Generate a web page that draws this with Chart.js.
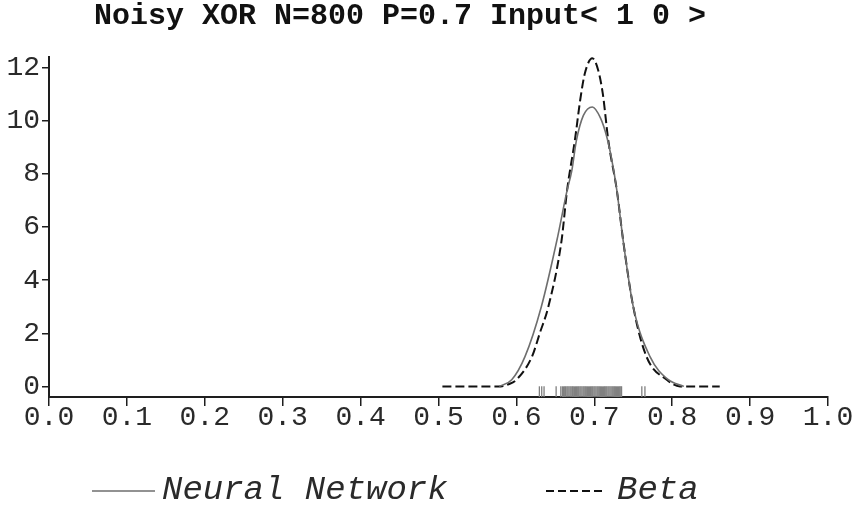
<!DOCTYPE html>
<html>
<head>
<meta charset="utf-8">
<script src="https://cdn.jsdelivr.net/npm/chart.js@4.4.1/dist/chart.umd.min.js"></script>
<style>
  html, body { margin: 0; padding: 0; background: #ffffff; }
  #wrap { width: 860px; height: 514px; }
</style>
</head>
<body>
<div id="wrap"><canvas id="c" width="860" height="514"></canvas></div>
<script>
// Density estimate from the trained network (solid curve)
const nnX = [0.578, 0.594, 0.611, 0.632, 0.652, 0.665, 0.671, 0.677, 0.686, 0.6975, 0.708, 0.716, 0.722, 0.729, 0.737, 0.75, 0.7715, 0.795, 0.815];
const nnY = [0, 0.25, 1.12, 3.0, 5.5, 7.37, 8.1, 9.25, 10.2, 10.52, 10.1, 9.4, 8.6, 7.37, 5.5, 3.0, 1.12, 0.25, 0];

// Beta density (dashed curve)
const betaX = [0.505, 0.58, 0.59, 0.60, 0.62, 0.63, 0.641, 0.658, 0.665, 0.675, 0.682, 0.688, 0.6975, 0.705, 0.711, 0.718, 0.729, 0.737, 0.75, 0.767, 0.793, 0.81, 0.861];
const betaY = [0, 0, 0.08, 0.25, 1.12, 2.0, 3.0, 5.5, 7.37, 9.25, 10.8, 11.8, 12.35, 11.9, 11.0, 9.25, 7.37, 5.5, 3.0, 1.12, 0.25, 0, 0];

// Observed outputs, shown as a rug under the curves
const rugX = [0.6295, 0.6325, 0.6355, 0.651, 0.657,
  0.659, 0.6605, 0.662, 0.6632, 0.6648, 0.6661, 0.6675, 0.669, 0.6703, 0.6718, 0.673, 0.6745,
  0.676, 0.6772, 0.6787, 0.68, 0.6815, 0.6828, 0.6842, 0.6857, 0.687, 0.6884, 0.6897, 0.6912,
  0.6925, 0.694, 0.6953, 0.6967, 0.698, 0.6995, 0.7008, 0.7022, 0.7037, 0.705, 0.7064, 0.7078,
  0.7091, 0.7105, 0.712, 0.7133, 0.7147, 0.716, 0.7175, 0.7188, 0.7202, 0.7216, 0.723, 0.7243,
  0.7257, 0.727, 0.7285, 0.7298, 0.7312, 0.7326, 0.734, 0.735,
  0.761, 0.765];
const rugLevel = -0.2;

const xTicks = [0, 0.1, 0.2, 0.3, 0.4, 0.5, 0.6, 0.7, 0.8, 0.9, 1.0];
const yTicks = [0, 2, 4, 6, 8, 10, 12];

const titleText = 'Noisy XOR N=800 P=0.7 Input< 1 0 >';

const pts = (xs, ys) => xs.map((x, i) => ({ x: x, y: ys[i] }));

const axisColor = '#1e1e1e';
const mono = '"Liberation Mono", "DejaVu Sans Mono", monospace';

// Title and legend drawn in monospace at fixed spots
const decorations = {
  id: 'decorations',
  afterDraw(chart) {
    const ctx = chart.ctx;
    ctx.save();
    ctx.fillStyle = '#111';
    ctx.font = 'bold 30px ' + mono;
    ctx.textAlign = 'center';
    ctx.textBaseline = 'alphabetic';
    ctx.fillText(titleText, 400, 24);

    const ds = chart.data.datasets;
    ctx.font = 'italic 34px ' + mono;
    ctx.textAlign = 'left';
    ctx.fillStyle = '#2a2a2a';

    ctx.strokeStyle = ds[0].borderColor;
    ctx.lineWidth = 1.6;
    ctx.setLineDash([]);
    ctx.beginPath(); ctx.moveTo(92, 491); ctx.lineTo(155, 491); ctx.stroke();
    ctx.fillText(ds[0].label, 162, 499);

    ctx.strokeStyle = ds[1].borderColor;
    ctx.lineWidth = 1.8;
    ctx.setLineDash([8, 4]);
    ctx.beginPath(); ctx.moveTo(546, 491); ctx.lineTo(606, 491); ctx.stroke();
    ctx.setLineDash([]);
    ctx.fillText(ds[1].label, 617, 499);
    ctx.restore();
  }
};

new Chart(document.getElementById('c'), {
  type: 'line',
  data: {
    datasets: [
      {
        label: 'Neural Network',
        data: pts(nnX, nnY),
        borderColor: '#6e6e6e',
        borderWidth: 1.6,
        pointRadius: 0,
        cubicInterpolationMode: 'monotone',
        fill: false
      },
      {
        label: 'Beta',
        data: pts(betaX, betaY),
        borderColor: '#111111',
        borderWidth: 2,
        borderDash: [9, 4],
        pointRadius: 0,
        cubicInterpolationMode: 'monotone',
        fill: false
      },
      {
        type: 'scatter',
        label: 'samples',
        data: rugX.map(x => ({ x: x, y: rugLevel })),
        pointStyle: 'line',
        rotation: 90,
        radius: 5.4,
        borderColor: '#808080',
        borderWidth: 1.3,
        backgroundColor: '#808080'
      }
    ]
  },
  options: {
    responsive: false,
    animation: false,
    events: [],
    layout: { padding: { top: 57, right: 32, bottom: 0, left: 0 } },
    plugins: {
      legend: { display: false },
      title: { display: false },
      tooltip: { enabled: false }
    },
    scales: {
      x: {
        type: 'linear',
        min: 0,
        max: 1,
        afterBuildTicks: s => { s.ticks = xTicks.map(v => ({ value: v })); },
        afterFit: s => { s.height = 117; },
        grid: { display: true, drawOnChartArea: false, drawTicks: true, tickLength: 9, color: axisColor, lineWidth: 1.5 },
        border: { display: true, color: axisColor, width: 2 },
        ticks: {
          color: '#2a2a2a',
          font: { family: mono, size: 28 },
          padding: -5,
          maxRotation: 0,
          autoSkip: false,
          callback: v => Number(v).toFixed(1)
        }
      },
      y: {
        type: 'linear',
        min: -0.4,
        max: 12.4,
        afterBuildTicks: s => { s.ticks = yTicks.map(v => ({ value: v })); },
        afterFit: s => { s.width = 49; },
        grid: { display: true, drawOnChartArea: false, drawTicks: true, tickLength: 7, color: axisColor, lineWidth: 1.5 },
        border: { display: true, color: axisColor, width: 2 },
        ticks: {
          color: '#2a2a2a',
          font: { family: mono, size: 28 },
          padding: 2,
          autoSkip: false,
          callback: v => String(v)
        }
      }
    }
  },
  plugins: [decorations]
});
</script>
</body>
</html>
